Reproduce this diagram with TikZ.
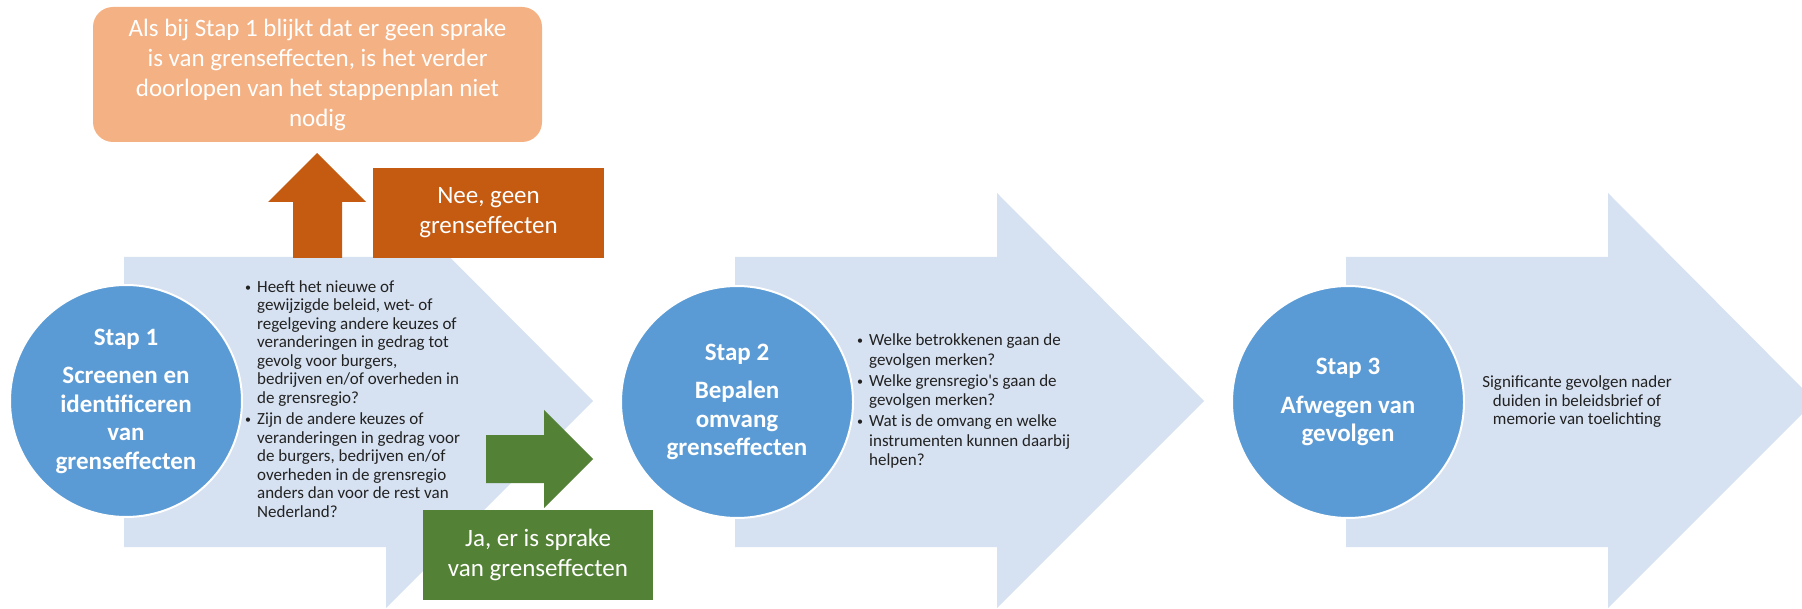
\documentclass[tikz,border=0pt]{standalone}
\usepackage{fontspec}
\setmainfont{Carlito}
\definecolor{arrowblue}{HTML}{D6E1F1}
\definecolor{circblue}{HTML}{5B9BD5}
\definecolor{lightorange}{HTML}{F4B183}
\definecolor{darkorange}{HTML}{C55A11}
\definecolor{darkgreen}{HTML}{538135}
\definecolor{darktext}{HTML}{222222}
\newcommand{\blt}{\raisebox{1pt}{\fontsize{12}{12}\selectfont\textbullet}}

\begin{document}
\begin{tikzpicture}
[x=1pt,y=-1pt,%
  every node/.style={inner sep=0pt,text=white},%
  stepcircle/.style={circle,fill=circblue,draw=white,line width=2pt,minimum size=232pt,
    align=center,font=\bfseries\fontsize{25}{28.5}\selectfont},%
  bigtxt/.style={align=center,font=\fontsize{25}{30}\selectfont},%
  smalltxt/.style={text=darktext,font=\fontsize{17}{18.5}\selectfont}]
\useasboundingbox (0,0) rectangle (1802,609);
\foreach \x in {0,611,1222}
  \fill[arrowblue] (\x+124,257) -- (\x+386,257) -- (\x+386,193) -- (\x+593,401)
    -- (\x+386,608) -- (\x+386,547) -- (\x+124,547) -- cycle;
\node[stepcircle] (stap1) at (126,401) {Stap 1\\[10pt]Screenen en\\identificeren\\van\\grenseffecten};
\node[stepcircle] (stap2) at (737,402) {Stap 2\\[10pt]Bepalen\\omvang\\grenseffecten};
\node[stepcircle] (stap3) at (1348,402) {Stap 3\\[10pt]Afwegen van\\gevolgen};
\node[smalltxt,anchor=west] (vragen1) at (245,401) {%
  \begin{tabular}{@{}l@{\hspace{6pt}}l@{}}
  \blt & Heeft het nieuwe of\\
   & gewijzigde beleid, wet- of\\
   & regelgeving andere keuzes of\\
   & veranderingen in gedrag tot\\
   & gevolg voor burgers,\\
   & bedrijven en/of overheden in\\
   & de grensregio?\\[3pt]
  \blt & Zijn de andere keuzes of\\
   & veranderingen in gedrag voor\\
   & de burgers, bedrijven en/of\\
   & overheden in de grensregio\\
   & anders dan voor de rest van\\
   & Nederland?
  \end{tabular}};
\node[smalltxt,font=\fontsize{17}{19.5}\selectfont,anchor=west] (vragen2) at (857,402) {%
  \begin{tabular}{@{}l@{\hspace{6pt}}l@{}}
  \blt & Welke betrokkenen gaan de\\
   & gevolgen merken?\\[1.5pt]
  \blt & Welke grensregio\textquotesingle s gaan de\\
   & gevolgen merken?\\[1.5pt]
  \blt & Wat is de omvang en welke\\
   & instrumenten kunnen daarbij\\
   & helpen?
  \end{tabular}};
\node[smalltxt,align=center] (duiden) at (1577,402) {Significante gevolgen nader\\duiden in beleidsbrief of\\memorie van toelichting};
\fill[darkorange] (293,258) -- (293,202) -- (268,202) -- (317,153) -- (366,202)
  -- (342,202) -- (342,258) -- cycle;
\node[bigtxt,fill=darkorange,minimum width=231pt,minimum height=90pt] (nee) at (488.5,213) {Nee, geen\\grenseffecten};
\fill[darkgreen] (486,435) -- (544,435) -- (544,410) -- (593,459) -- (544,508)
  -- (544,483) -- (486,483) -- cycle;
\node[bigtxt,fill=darkgreen,minimum width=230pt,minimum height=90pt] (ja) at (538,555) {Ja, er is sprake\\van grenseffecten};
\node[bigtxt,fill=lightorange,rounded corners=20pt,minimum width=449pt,minimum height=135pt] (geen) at (317.5,74.5)
  {Als bij Stap 1 blijkt dat er geen sprake\\is van grenseffecten, is het verder\\doorlopen van het stappenplan niet\\nodig};
\end{tikzpicture}
\end{document}
